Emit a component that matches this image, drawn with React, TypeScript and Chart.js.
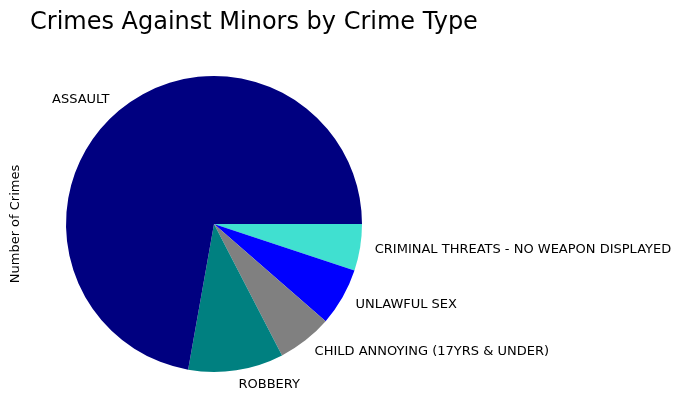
import React, { useEffect, useRef } from "react";
import { Chart, registerables } from "chart.js";
Chart.register(...registerables);

// reversed order (clockwise from 3 o'clock) to mimic counter-clockwise matplotlib layout
const categories = ["CRIMINAL THREATS - NO WEAPON DISPLAYED", "UNLAWFUL SEX", "CHILD ANNOYING (17YRS & UNDER)", "ROBBERY", "ASSAULT"];
const values = [51, 63, 60, 104, 722];
const colors = ["#40e0d0", "#0000ff", "#808080", "#008080", "#000080"];

const labelPlugin = {
  id: "labels",
  afterDraw(chart: any) {
    const ctx = chart.ctx;
    const meta = chart.getDatasetMeta(0);
    ctx.save();
    ctx.fillStyle = "#000";
    ctx.font = "13px 'DejaVu Sans'";
    ctx.textBaseline = "middle";
    meta.data.forEach((arc: any, i: number) => {
      const { startAngle, endAngle, x, y, outerRadius } = arc.getProps(["startAngle", "endAngle", "x", "y", "outerRadius"], true);
      const a = (startAngle + endAngle) / 2;
      const lx = x + 1.1 * outerRadius * Math.cos(a);
      const ly = y + 1.1 * outerRadius * Math.sin(a);
      ctx.textAlign = Math.cos(a) >= 0 ? "left" : "right";
      ctx.fillText(chart.data.labels[i], lx, ly);
    });
    ctx.font = "24px 'DejaVu Sans'";
    ctx.textAlign = "left";
    ctx.fillText("Crimes Against Minors by Crime Type", 30, 23);
    ctx.font = "13px 'DejaVu Sans'";
    ctx.translate(16, 224);
    ctx.rotate(-Math.PI / 2);
    ctx.textAlign = "center";
    ctx.fillText("Number of Crimes", 0, 0);
    ctx.restore();
  },
};

export default function App() {
  const ref = useRef<HTMLCanvasElement>(null);
  useEffect(() => {
    document.body.style.margin = "0";
    const chart = new Chart(ref.current!, {
      type: "pie",
      data: { labels: categories, datasets: [{ data: values, backgroundColor: colors, borderWidth: 0 }] },
      options: {
        animation: false,
        responsive: false,
        rotation: 90,
        layout: { padding: { left: 66, right: 338, top: 76, bottom: 47 } },
        plugins: { legend: { display: false }, tooltip: { enabled: false } },
      },
      plugins: [labelPlugin],
    });
    return () => chart.destroy();
  }, []);
  return <canvas ref={ref} width={700} height={419} style={{ display: "block" }} />;
}
